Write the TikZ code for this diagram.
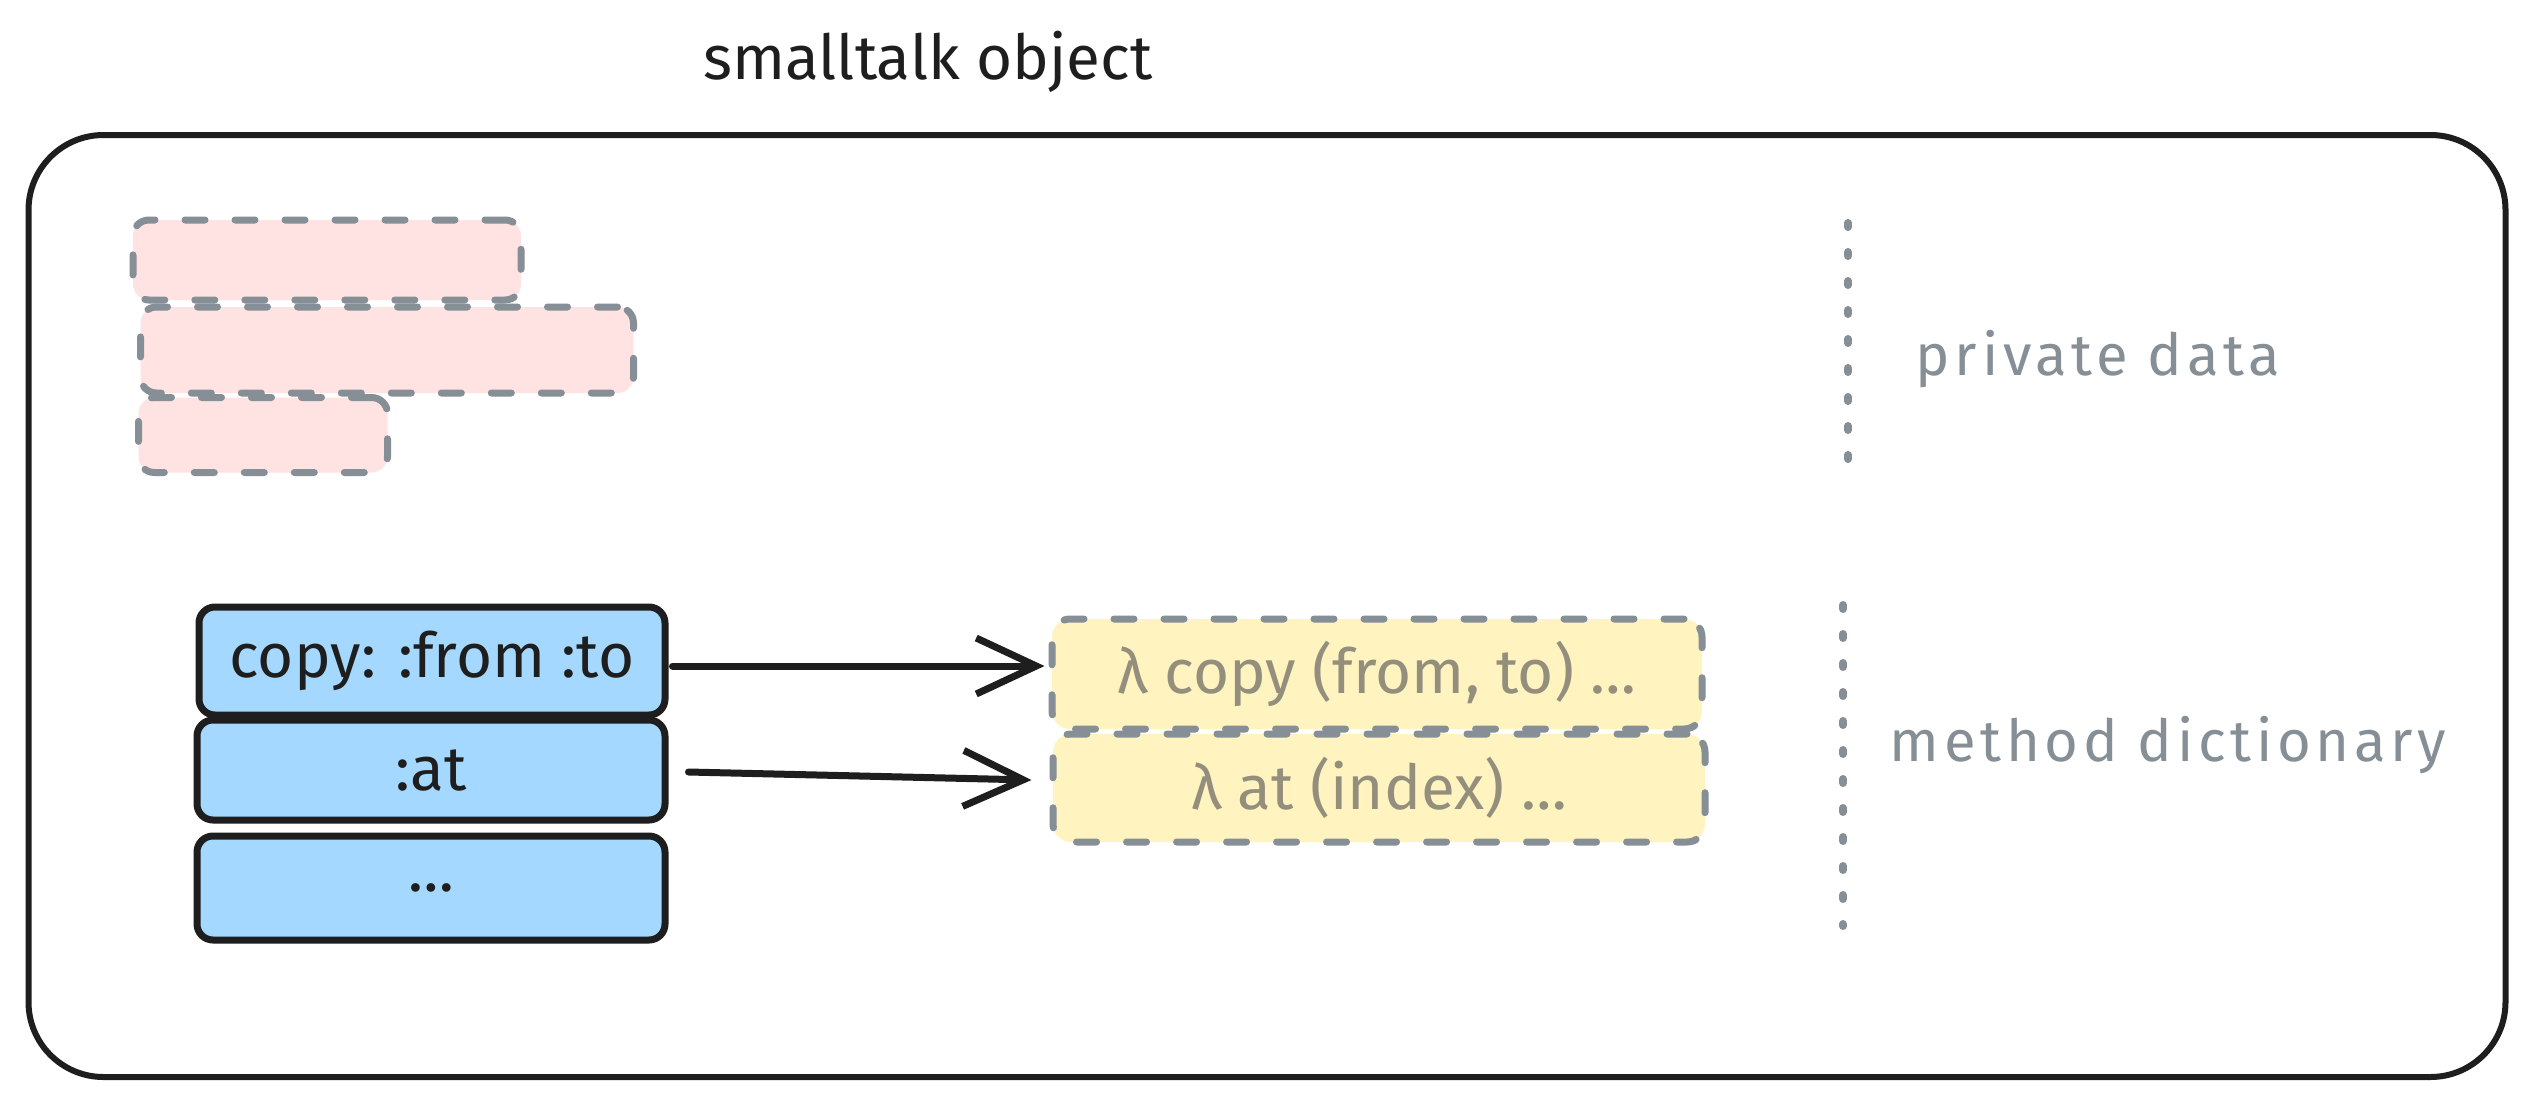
\documentclass[tikz,border=0pt]{standalone}
\usepackage{fontspec}
\setmainfont{Fira Sans}
\usetikzlibrary{arrows.meta}
\definecolor{pinkfill}{HTML}{FFE3E3}
\definecolor{bluefill}{HTML}{A5D8FF}
\definecolor{yellowfill}{HTML}{FFF3BF}
\definecolor{sgray}{HTML}{868E96}
\definecolor{ink}{HTML}{1E1E1E}
\definecolor{ytext}{HTML}{948F7C}
\begin{document}
\begin{tikzpicture}[x=1pt,y=-1pt,
  txt/.style={font=\fontsize{62}{72}\selectfont, text=ink, inner sep=0pt},
  lbl/.style={font=\fontsize{58}{68}\selectfont\addfontfeatures{LetterSpace=8}, text=sgray, inner sep=0pt},
  outerbox/.style={draw=ink, line width=6pt, rounded corners=75pt, inner sep=0pt},
  privbox/.style={draw=sgray, fill=pinkfill, line width=7pt, dash pattern=on 20pt off 30pt, line cap=round, rounded corners=16pt, inner sep=0pt},
  methbox/.style={draw=ink, fill=bluefill, line width=7pt, rounded corners=16pt, inner sep=0pt, font=\fontsize{62}{72}\selectfont, text=ink},
  implbox/.style={draw=sgray, fill=yellowfill, line width=7pt, dash pattern=on 20pt off 30pt, line cap=round, rounded corners=18pt, inner sep=0pt, font=\fontsize{62}{72}\selectfont, text=ytext},
  sep/.style={draw=sgray, line width=8pt, line cap=round, dash pattern=on 4pt off 25pt},
  link/.style={draw=ink, line width=7pt, line cap=round, -{Straight Barb[length=60pt, width=56pt, line width=7pt]}}
]
\useasboundingbox[fill=white] (0,0) rectangle (2535,1109);

\node[txt] (title) at (928,62) {smalltalk object};
\node[outerbox, minimum width=2477pt, minimum height=942pt] (obj) at (1267,606) {};

% private data
\node[privbox, minimum width=388pt, minimum height=80pt] (p1) at (327,260) {};
\node[privbox, minimum width=493pt, minimum height=86pt] (p2) at (387,350) {};
\node[privbox, minimum width=249pt, minimum height=75pt] (p3) at (263,435) {};

% method dictionary
\node[methbox, minimum width=466pt, minimum height=108pt] (m1) at (432,661) {copy: :from :to};
\node[methbox, minimum width=468pt, minimum height=100pt] (m2) at (431,770) {:at};
\node[methbox, minimum width=468pt, minimum height=104pt] (m3) at (431,888) {…};

\node[implbox, minimum width=650pt, minimum height=110pt] (i1) at (1377,674) {λ copy (from, to) …};
\node[implbox, minimum width=652pt, minimum height=108pt] (i2) at (1379,788) {λ at (index) …};

\draw[link] ([xshift=4pt,yshift=-5pt]m1.east) -- ([xshift=-4pt,yshift=8pt]i1.west);
\draw[link] ([xshift=20pt,yshift=-2pt]m2.east) -- ([xshift=-18pt,yshift=8pt]i2.west);

% separators
\coordinate (s1a) at (1848,223);
\coordinate (s1b) at (1848,461);
\coordinate (s2a) at (1843,605);
\coordinate (s2b) at (1843,926);
\draw[sep] (s1a) -- (s1b);
\draw[sep] (s2a) -- (s2b);

\node[lbl] (lpriv) at (2098,359) {private data};
\node[lbl] (lmeth) at (2168,745) {method dictionary};
\end{tikzpicture}
\end{document}
